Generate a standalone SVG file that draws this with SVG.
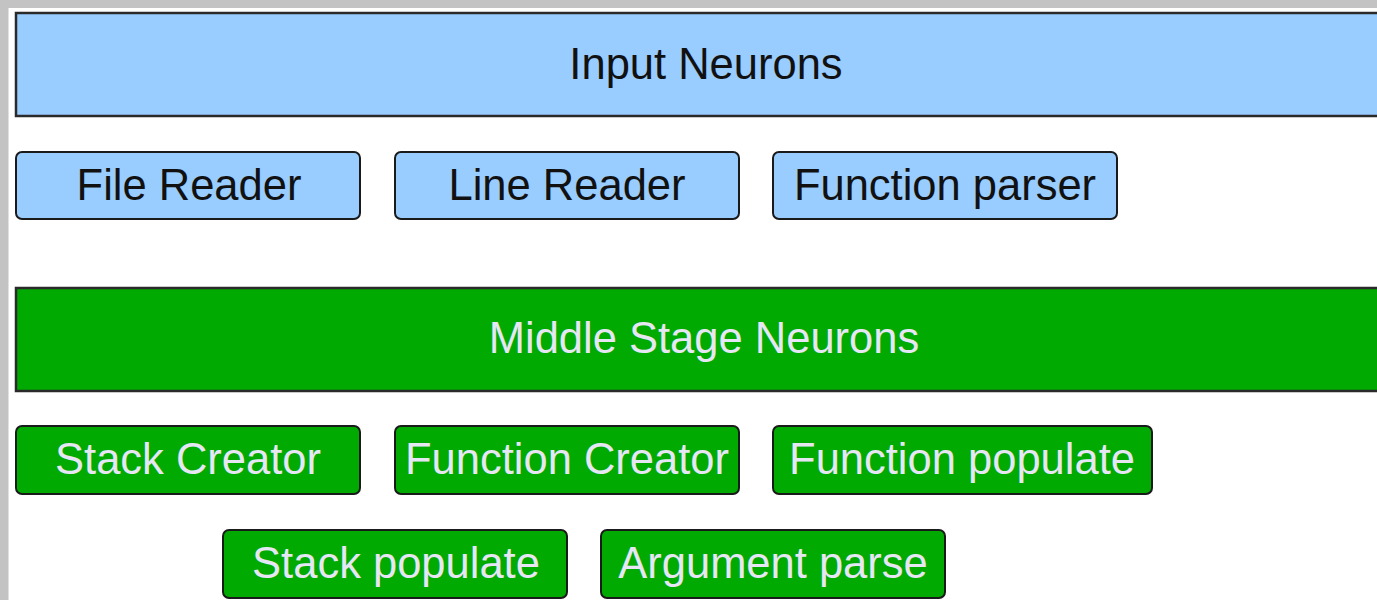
<svg xmlns="http://www.w3.org/2000/svg" width="1377" height="600" viewBox="0 0 1377 600">
<style>
.big{stroke:#2a2a2a;stroke-width:2.5}
.box{stroke:#1a1a1a;stroke-width:2}
.blue{fill:#99ccff}
.green{fill:#00aa00}
text{font-family:"Liberation Sans",Arial,sans-serif;font-size:43.5px;text-anchor:middle}
.dk{fill:#111}
.lt{fill:#e6e6f5}
</style>
<rect x="0" y="0" width="1377" height="600" fill="#ffffff"/>
<rect x="0" y="0" width="1377" height="8" fill="#c4c3c3"/>
<rect x="0" y="0" width="8.5" height="600" fill="#c4c3c3"/>
<g id="input-neurons">
<rect class="big blue" x="16" y="13" width="1400" height="103"/>
<text class="dk" x="706" y="79">Input Neurons</text>
</g>
<g id="file-reader">
<rect class="box blue" x="16" y="152" width="344" height="67" rx="6"/>
<text class="dk" x="189" y="200">File Reader</text>
</g>
<g id="line-reader">
<rect class="box blue" x="395" y="152" width="344" height="67" rx="6"/>
<text class="dk" x="567" y="200">Line Reader</text>
</g>
<g id="function-parser">
<rect class="box blue" x="773" y="152" width="344" height="67" rx="6"/>
<text class="dk" x="945" y="200">Function parser</text>
</g>
<g id="middle-stage-neurons">
<rect class="big green" x="16" y="288" width="1400" height="103"/>
<text class="lt" x="704" y="353">Middle Stage Neurons</text>
</g>
<g id="stack-creator">
<rect class="box green" x="16" y="426" width="344" height="68" rx="6"/>
<text class="lt" x="188" y="474">Stack Creator</text>
</g>
<g id="function-creator">
<rect class="box green" x="395" y="426" width="344" height="68" rx="6"/>
<text class="lt" x="567" y="474">Function Creator</text>
</g>
<g id="function-populate">
<rect class="box green" x="773" y="426" width="379" height="68" rx="6"/>
<text class="lt" x="962" y="474">Function populate</text>
</g>
<g id="stack-populate">
<rect class="box green" x="223" y="530" width="344" height="68" rx="6"/>
<text class="lt" x="396" y="578">Stack populate</text>
</g>
<g id="argument-parse">
<rect class="box green" x="601" y="530" width="344" height="68" rx="6"/>
<text class="lt" x="773" y="578">Argument parse</text>
</g>
<g id="connectors"></g>
</svg>
